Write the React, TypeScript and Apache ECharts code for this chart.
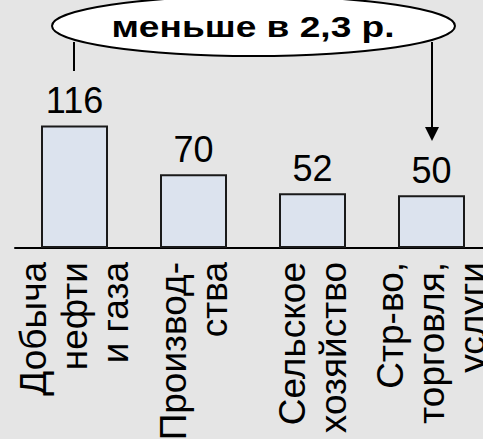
import React, { useEffect, useRef } from "react";
import * as echarts from "echarts";

const categories = [
  "Добыча\nнефти\nи газа",
  "Производ-\nства",
  "Сельское\nхозяйство",
  "Стр-во,\nторговля,\nуслуги",
];
const values = [116, 70, 52, 50];
const calloutText = "меньше в 2,3 р.";

const FONT = "'Liberation Sans', Arial, sans-serif";

export default function App() {
  const ref = useRef<HTMLDivElement>(null);
  useEffect(() => {
    if (!ref.current) return;
    const chart = echarts.init(ref.current, null, { renderer: "svg" });
    chart.setOption({
      animation: false,
      backgroundColor: "#e5e5e5",
      textStyle: { fontFamily: FONT },
      grid: {
        left: 15,
        right: -8,
        top: 37,
        bottom: 191,
        containLabel: false,
        outerBoundsMode: "none",
      },
      xAxis: {
        type: "category",
        data: categories,
        axisLine: { show: true, lineStyle: { color: "#000", width: 2 } },
        axisTick: { show: false },
        axisLabel: {
          rotate: 90,
          interval: 0,
          margin: 14,
          fontSize: 37,
          lineHeight: 41,
          color: "#000",
          fontFamily: FONT,
        },
      },
      yAxis: {
        type: "value",
        min: 0,
        max: 200,
        show: false,
        splitLine: { show: false },
      },
      series: [
        {
          type: "bar",
          data: values,
          barWidth: 67,
          itemStyle: { color: "#dce3ee", borderColor: "#1a1a1a", borderWidth: 2 },
          label: {
            show: true,
            position: "top",
            distance: 7,
            fontSize: 36,
            color: "#000",
            fontFamily: FONT,
          },
        },
      ],
      graphic: [
        {
          type: "line",
          shape: { x1: 74, y1: 42, x2: 74, y2: 71 },
          style: { stroke: "#000", lineWidth: 2 },
        },
        {
          type: "line",
          shape: { x1: 432, y1: 42, x2: 432, y2: 128 },
          style: { stroke: "#000", lineWidth: 2 },
        },
        {
          type: "polygon",
          shape: { points: [[425, 127], [439, 127], [432, 141]] },
          style: { fill: "#000" },
        },
        {
          type: "ellipse",
          shape: { cx: 253.5, cy: 26, rx: 201.5, ry: 30 },
          style: { fill: "#fff", stroke: "#000", lineWidth: 2 },
          z: 10,
        },
        {
          type: "text",
          x: 253,
          y: 27,
          scaleX: 1.28,
          z: 11,
          style: {
            text: calloutText,
            fontSize: 29,
            fontWeight: "bold",
            fontFamily: FONT,
            fill: "#000",
            align: "center",
            verticalAlign: "middle",
          },
        },
      ],
    });
    return () => chart.dispose();
  }, []);
  return (
    <div
      ref={ref}
      style={{ position: "fixed", left: 0, top: 0, width: 483, height: 439 }}
    />
  );
}
